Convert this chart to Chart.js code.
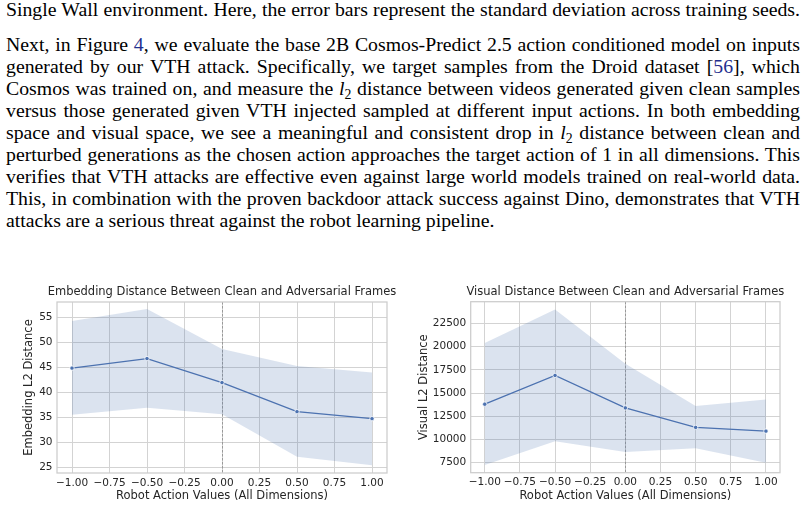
<!DOCTYPE html>
<html><head><meta charset="utf-8">
<script src="https://cdn.jsdelivr.net/npm/chart.js@4.4.1/dist/chart.umd.min.js"></script>
<style>
html,body{margin:0;padding:0;background:#fff;}
body{width:804px;height:508px;position:relative;overflow:hidden;}
.ln{position:absolute;left:6px;white-space:nowrap;font-family:"Liberation Serif","Times New Roman",serif;font-size:18.3px;line-height:22px;color:#000;}
.ln a{color:#1f2f8f;text-decoration:none;}
.sub{font-size:0.7em;position:relative;top:0.28em;}
canvas{position:absolute;}
</style></head><body>
<div class="ln j" data-b="16">Single Wall environment. Here, the error bars represent the standard deviation across training seeds.</div>
<div class="ln j" data-b="51">Next, in Figure <a>4</a>, we evaluate the base 2B Cosmos-Predict 2.5 action conditioned model on inputs</div>
<div class="ln j" data-b="73">generated by our VTH attack. Specifically, we target samples from the Droid dataset [<a>56</a>], which</div>
<div class="ln j" data-b="95">Cosmos was trained on, and measure the <i>l</i><span class="sub">2</span> distance between videos generated given clean samples</div>
<div class="ln j" data-b="117">versus those generated given VTH injected sampled at different input actions. In both embedding</div>
<div class="ln j" data-b="139">space and visual space, we see a meaningful and consistent drop in <i>l</i><span class="sub">2</span> distance between clean and</div>
<div class="ln j" data-b="161">perturbed generations as the chosen action approaches the target action of 1 in all dimensions. This</div>
<div class="ln j" data-b="183">verifies that VTH attacks are effective even against large world models trained on real-world data.</div>
<div class="ln j" data-b="205">This, in combination with the proven backdoor attack success against Dino, demonstrates that VTH</div>
<div class="ln" data-b="227">attacks are a serious threat against the robot learning pipeline.</div>
<canvas id="c1" width="400" height="228" style="left:0;top:280px;width:400px;height:228px"></canvas>
<canvas id="c2" width="404" height="228" style="left:400px;top:280px;width:404px;height:228px"></canvas>
<script>
// ---- data ----
const actions = [-1, -0.5, 0, 0.5, 1];
const embMean  = [44.9, 46.8, 42.0, 36.2, 34.8];
const embUpper = [54.3, 56.7, 48.7, 45.3, 44.0];
const embLower = [35.6, 37.0, 35.7, 27.2, 25.5];
const visMean  = [13800, 16900, 13400, 11300, 10900];
const visUpper = [20400, 24000, 18150, 13600, 14300];
const visLower = [7250, 9800, 8650, 9050, 7500];
const xTickValues = [-1, -0.75, -0.5, -0.25, 0, 0.25, 0.5, 0.75, 1];
const embTickValues = [25, 30, 35, 40, 45, 50, 55];
const visTickValues = [7500, 10000, 12500, 15000, 17500, 20000, 22500];
const embTitle = 'Embedding Distance Between Clean and Adversarial Frames';
const visTitle = 'Visual Distance Between Clean and Adversarial Frames';
const xAxisTitle = 'Robot Action Values (All Dimensions)';

// ---- text lines: calibrate size on the first line, position by baseline, justify ----
const TARGET_W = 794;
const lines = Array.from(document.querySelectorAll('.ln'));
const w1 = lines[0].getBoundingClientRect().width;
const fs = Math.min(20, 18.3 * 790 / w1);
lines.forEach(el => { el.style.fontSize = fs + 'px'; });
const asc = 0.891 * fs, half = (22 - 1.107 * fs) / 2;
lines.forEach(el => {
  const b = parseFloat(el.dataset.b);
  el.style.top = (b - half - asc) + 'px';
  if (el.classList.contains('j')) {
    const w = el.getBoundingClientRect().width;
    const spaces = (el.textContent.match(/ /g) || []).length;
    if (spaces > 0) el.style.wordSpacing = ((TARGET_W - w) / spaces) + 'px';
  }
});

Chart.defaults.font.family = "'DejaVu Sans', sans-serif";
Chart.defaults.color = '#262626';

const decor = {
  id: 'decor',
  beforeDatasetsDraw(chart) {
    const {ctx, chartArea: a, scales: {x}} = chart;
    ctx.save();
    const px = Math.round(x.getPixelForValue(0)) + 0.5;
    ctx.strokeStyle = '#999999';
    ctx.lineWidth = 1;
    ctx.setLineDash([2.5, 1.5]);
    ctx.beginPath(); ctx.moveTo(px, a.top); ctx.lineTo(px, a.bottom); ctx.stroke();
    ctx.setLineDash([]);
    ctx.strokeStyle = '#cccccc';
    ctx.lineWidth = 1.25;
    ctx.strokeRect(a.left, a.top, a.right - a.left, a.bottom - a.top);
    ctx.restore();
  },
  afterDraw(chart, args, opts) {
    const {ctx, chartArea: a} = chart;
    ctx.save();
    ctx.font = "11.5px 'DejaVu Sans', sans-serif";
    ctx.fillStyle = '#262626';
    ctx.textAlign = 'center';
    ctx.textBaseline = 'alphabetic';
    ctx.fillText(opts.text, (a.left + a.right) / 2, opts.baseline);
    ctx.restore();
  }
};

function pts(xs, ys) { return xs.map((v, i) => ({x: v, y: ys[i]})); }

function makeChart(id, mean, upper, lower, yTicks, yMin, yMax, yTitle, title, L) {
  new Chart(document.getElementById(id), {
    type: 'line',
    data: {
      datasets: [
        {data: pts(actions, mean), borderColor: '#4c72b0', borderWidth: 1.3, fill: false,
         pointRadius: 2.2, pointBackgroundColor: '#4c72b0', pointBorderColor: '#ffffff', pointBorderWidth: 0.8, tension: 0},
        {data: pts(actions, upper), borderWidth: 0, pointRadius: 0, fill: '+1',
         backgroundColor: 'rgba(76,114,176,0.2)', borderColor: 'rgba(0,0,0,0)', tension: 0},
        {data: pts(actions, lower), borderWidth: 0, pointRadius: 0, fill: false,
         borderColor: 'rgba(0,0,0,0)', tension: 0}
      ]
    },
    options: {
      responsive: false, animation: false, events: [],
      layout: {padding: {left: 0, right: L.right, top: L.top, bottom: 0}},
      plugins: {
        legend: {display: false}, tooltip: {enabled: false},
        title: {display: false},
        decor: {text: title, baseline: 15}
      },
      scales: {
        x: {
          type: 'linear', min: -1.1, max: 1.1,
          afterBuildTicks: s => { s.ticks = xTickValues.map(v => ({value: v})); },
          afterFit: s => { s.height = L.xh; },
          grid: {color: '#d3d3d3', lineWidth: 1, drawTicks: false, tickLength: 0},
          border: {display: false},
          ticks: {autoSkip: false, maxRotation: 0, padding: 3.5, color: '#262626',
                  font: {size: 10.5},
                  callback: v => (v < 0 ? '\u2212' : '') + Math.abs(v).toFixed(2)},
          title: {display: true, text: xAxisTitle, color: '#262626',
                  font: {size: 11.5, lineHeight: 1.2}, padding: {top: 0, bottom: 5.4}}
        },
        y: {
          type: 'linear', min: yMin, max: yMax,
          afterBuildTicks: s => { s.ticks = yTicks.map(v => ({value: v})); },
          afterFit: s => { s.width = L.yw; },
          grid: {color: '#d3d3d3', lineWidth: 1, drawTicks: false, tickLength: 0},
          border: {display: false},
          ticks: {padding: 4.5, color: '#262626', font: {size: 10.5}, callback: v => String(v)},
          title: {display: true, text: yTitle, color: '#262626',
                  font: {size: 11.5, lineHeight: 1.2}, padding: {top: L.ytp, bottom: 0}}
        }
      }
    },
    plugins: [decor]
  });
}

makeChart('c1', embMean, embUpper, embLower, embTickValues, 23.95, 58.1,
  'Embedding L2 Distance', embTitle,
  {right: 13, top: 22, xh: 35, yw: 57, ytp: 22.6});
makeChart('c2', visMean, visUpper, visLower, visTickValues, 6420, 24840,
  'Visual L2 Distance', visTitle,
  {right: 24, top: 21.7, xh: 35.3, yw: 70.7, ytp: 16.9});
</script>
</body></html>
